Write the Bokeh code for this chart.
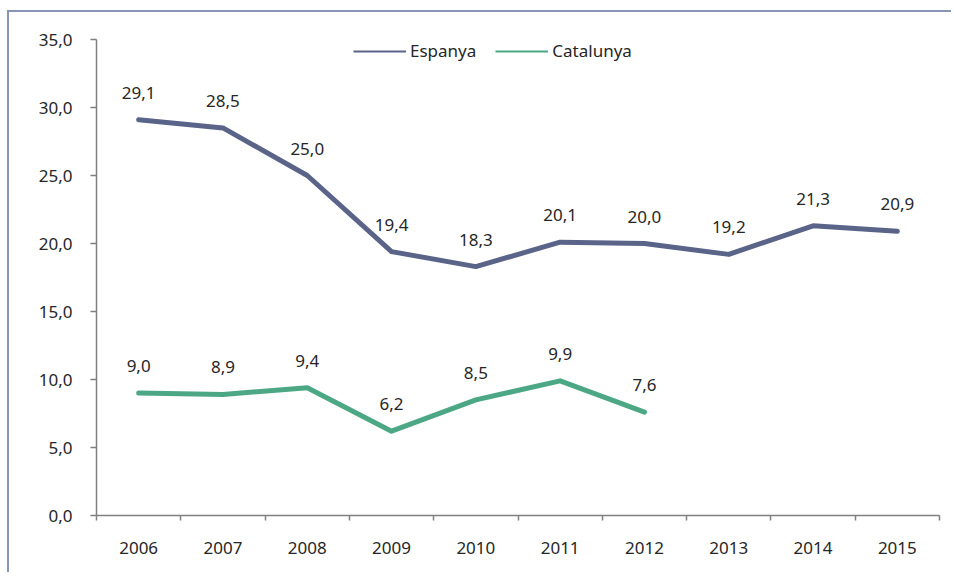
from bokeh.plotting import figure
from bokeh.models import (Range1d, FixedTicker, Legend, LegendItem, ColumnDataSource)
from bokeh.core.properties import value
from bokeh.embed import file_html
from bokeh.resources import INLINE

years = [2006, 2007, 2008, 2009, 2010, 2011, 2012, 2013, 2014, 2015]
espanya = [29.1, 28.5, 25.0, 19.4, 18.3, 20.1, 20.0, 19.2, 21.3, 20.9]
cat_years = [2006, 2007, 2008, 2009, 2010, 2011, 2012]
catalunya = [9.0, 8.9, 9.4, 6.2, 8.5, 9.9, 7.6]
y_ticks = [0, 5, 10, 15, 20, 25, 30, 35]

FONT = "Noto Sans"
TXT = "#262626"
C_ESP = "#5a6388"
C_CAT = "#4ca784"
BORDER = "#8a93b8"


def fmt(v):
    return f"{v:.1f}".replace(".", ",")


p = figure(width=954, height=572, output_backend="svg", toolbar_location=None,
           x_range=Range1d(2005.5, 2015.5), y_range=Range1d(0, 35),
           min_border_left=96, min_border_right=15, min_border_top=39,
           min_border_bottom=57, border_fill_alpha=0, outline_line_color=None)
p.styles = {"box-shadow": (f"inset -3px 0 0 #ffffff, inset 0 10px 0 #ffffff, inset 7px 0 0 #ffffff, "
                           f"inset 0 12px 0 {BORDER}, inset 9px 0 0 {BORDER}")}

p.xgrid.visible = False
p.ygrid.visible = False

src_esp = ColumnDataSource(dict(x=years, y=espanya, t=[fmt(v) for v in espanya]))
src_cat = ColumnDataSource(dict(x=cat_years, y=catalunya, t=[fmt(v) for v in catalunya]))

p.line("x", "y", source=src_esp, line_color=C_ESP, line_width=5, line_join="round", line_cap="round")
p.line("x", "y", source=src_cat, line_color=C_CAT, line_width=5, line_join="round", line_cap="round")

for src in (src_esp, src_cat):
    p.text("x", "y", text="t", source=src, y_offset=-27, text_align="center",
           text_baseline="middle", text_font=value(FONT), text_font_size="17px",
           text_color=TXT)

# axes
xa = p.xaxis[0]
xa.ticker = FixedTicker(ticks=years, minor_ticks=[y - 0.5 for y in years] + [2015.5])
xa.major_tick_line_color = None
xa.minor_tick_out = 5
xa.minor_tick_in = 0
xa.minor_tick_line_color = "#808080"
xa.minor_tick_line_width = 1.5
xa.major_label_standoff = 20

ya = p.yaxis[0]
ya.ticker = FixedTicker(ticks=y_ticks)
ya.major_label_overrides = {t: fmt(t) for t in y_ticks}
ya.major_tick_out = 6
ya.major_tick_in = 0
ya.minor_tick_line_color = None
ya.major_tick_line_color = "#808080"
ya.major_tick_line_width = 1.5
ya.major_label_standoff = 18

for ax in (xa, ya):
    ax.axis_line_color = "#808080"
    ax.axis_line_width = 1.5
    ax.major_label_text_font = FONT
    ax.major_label_text_font_size = "17px"
    ax.major_label_text_color = TXT

# legend with thin line samples (hidden renderers, used only for legend glyphs)
le = p.line("x", "y", source=src_esp, line_color=C_ESP, line_width=2, visible=False)
lc = p.line("x", "y", source=src_cat, line_color=C_CAT, line_width=2, visible=False)
legend = Legend(items=[LegendItem(label="Espanya", renderers=[le]),
                       LegendItem(label="Catalunya", renderers=[lc])],
                orientation="horizontal", location=(257, 453),
                glyph_width=53, glyph_height=18, label_height=18,
                label_standoff=4, spacing=19, padding=0, margin=0,
                background_fill_alpha=0, border_line_color=None,
                label_text_font=FONT, label_text_font_size="17px",
                label_text_color=TXT)
p.add_layout(legend)

open("out.html", "w").write(file_html(p, INLINE))
